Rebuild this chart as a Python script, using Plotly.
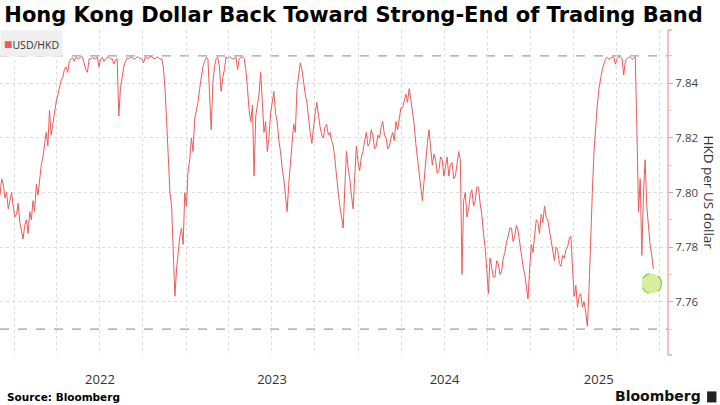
import pandas as pd
import plotly.graph_objects as go

# Twice-weekly USD/HKD readings (every 3.5 days), first reading on 2021-12-02
start_date = "2021-12-02"
usd_hkd = [
    7.799, 7.805, 7.803, 7.798, 7.800, 7.794, 7.797, 7.800, 7.795, 7.791,
    7.792, 7.796, 7.789, 7.786, 7.783, 7.788, 7.790, 7.785, 7.793, 7.790,
    7.797, 7.793, 7.803, 7.799, 7.806, 7.810, 7.813, 7.818, 7.822, 7.817,
    7.830, 7.821, 7.826, 7.829, 7.833, 7.836, 7.838, 7.841, 7.842, 7.845,
    7.846, 7.844, 7.848, 7.849, 7.8493, 7.848, 7.8496, 7.849, 7.8492, 7.8497,
    7.8495, 7.847, 7.845, 7.844, 7.849, 7.8488, 7.8495, 7.849, 7.849, 7.8496,
    7.846, 7.8489, 7.8495, 7.848, 7.849, 7.8496, 7.8495, 7.8488, 7.849, 7.847,
    7.8485, 7.849, 7.828, 7.838, 7.842, 7.846, 7.848, 7.8492, 7.849, 7.8495,
    7.8495, 7.8488, 7.849, 7.8497, 7.8495, 7.849, 7.849, 7.8475, 7.8495, 7.8492,
    7.849, 7.8498, 7.8497, 7.849, 7.849, 7.8496, 7.8495, 7.8488, 7.849, 7.846,
    7.838, 7.826, 7.812, 7.800, 7.795, 7.780, 7.762, 7.772, 7.778, 7.784,
    7.787, 7.781, 7.800, 7.795, 7.808, 7.812, 7.820, 7.815, 7.827, 7.830,
    7.833, 7.838, 7.842, 7.846, 7.848, 7.8495, 7.849, 7.836, 7.823, 7.840,
    7.846, 7.849, 7.8495, 7.846, 7.837, 7.842, 7.845, 7.8497, 7.849, 7.8496,
    7.8495, 7.8488, 7.849, 7.8496, 7.845, 7.849, 7.8495, 7.8497, 7.849, 7.845,
    7.838, 7.830, 7.826, 7.832, 7.806, 7.828, 7.832, 7.836, 7.844, 7.830,
    7.822, 7.826, 7.815, 7.820, 7.829, 7.833, 7.837, 7.829, 7.826, 7.819,
    7.815, 7.809, 7.805, 7.799, 7.793, 7.803, 7.812, 7.818, 7.825, 7.822,
    7.838, 7.843, 7.8475, 7.845, 7.840, 7.836, 7.833, 7.826, 7.822, 7.818,
    7.824, 7.829, 7.833, 7.828, 7.824, 7.821, 7.820, 7.824, 7.825, 7.821,
    7.822, 7.819, 7.817, 7.812, 7.805, 7.800, 7.795, 7.790, 7.787, 7.802,
    7.815, 7.809, 7.805, 7.799, 7.794, 7.806, 7.817, 7.811, 7.808, 7.813,
    7.815, 7.819, 7.822, 7.817, 7.818, 7.823, 7.821, 7.816, 7.817, 7.821,
    7.820, 7.824, 7.826, 7.821, 7.820, 7.816, 7.817, 7.820, 7.822, 7.819,
    7.826, 7.823, 7.827, 7.831, 7.831, 7.834, 7.836, 7.833, 7.838, 7.834,
    7.830, 7.825, 7.818, 7.812, 7.807, 7.802, 7.797, 7.805, 7.812, 7.818,
    7.823, 7.815, 7.810, 7.814, 7.812, 7.807, 7.808, 7.813, 7.812, 7.806,
    7.809, 7.813, 7.806, 7.810, 7.811, 7.805, 7.806, 7.811, 7.815, 7.812,
    7.770, 7.797, 7.800, 7.791, 7.794, 7.799, 7.801, 7.795, 7.797, 7.802,
    7.802, 7.796, 7.792, 7.785, 7.780, 7.772, 7.763, 7.776, 7.773, 7.769,
    7.769, 7.775, 7.774, 7.770, 7.771, 7.776, 7.778, 7.782, 7.784, 7.787,
    7.787, 7.782, 7.784, 7.788, 7.786, 7.781, 7.777, 7.773, 7.770, 7.766,
    7.761, 7.772, 7.781, 7.778, 7.785, 7.790, 7.789, 7.785, 7.792, 7.789,
    7.795, 7.791, 7.790, 7.786, 7.783, 7.778, 7.775, 7.780, 7.779, 7.774,
    7.773, 7.777, 7.776, 7.779, 7.780, 7.783, 7.784, 7.772, 7.762, 7.766,
    7.758, 7.762, 7.763, 7.758, 7.760, 7.756, 7.751, 7.765, 7.785, 7.800,
    7.815, 7.825, 7.832, 7.838, 7.842, 7.845, 7.847, 7.849, 7.8495, 7.8488,
    7.849, 7.8496, 7.8495, 7.847, 7.849, 7.8497, 7.8495, 7.849, 7.843, 7.848,
    7.849, 7.8496, 7.8495, 7.8488, 7.849, 7.8497, 7.823, 7.793, 7.805, 7.777,
    7.800, 7.812, 7.795, 7.787, 7.781, 7.777, 7.772,
]
dates = pd.date_range(start_date, periods=len(usd_hkd), freq="84h")

band_edges = [7.75, 7.85]
y_ticks = [7.76, 7.78, 7.80, 7.82, 7.84]
y_minor_ticks = [7.75, 7.77, 7.79, 7.81, 7.83, 7.85]
quarter_lines = [
    "2022-01-01", "2022-04-01", "2022-07-01", "2022-10-01",
    "2023-01-01", "2023-04-01", "2023-07-01", "2023-10-01",
    "2024-01-01", "2024-04-01", "2024-07-01", "2024-10-01",
    "2025-01-01", "2025-04-01", "2025-07-01", "2025-10-01",
]
year_label_dates = ["2022-07-02", "2023-07-02", "2024-07-02", "2025-05-25"]
year_labels = ["2022", "2023", "2024", "2025"]
highlight = ("2025-09-14", 7.7667)

LINE_RED = "#ec5b5b"
AXIS_RED = "#e79a9a"
TITLE_FONT = "DejaVu Sans"
BODY_FONT = "Open Sans"

fig = go.Figure()
fig.add_trace(go.Scatter(
    x=dates, y=usd_hkd, mode="lines",
    line=dict(color=LINE_RED, width=1),
    showlegend=False, hoverinfo="skip",
))

# Trading band edges
for edge in band_edges:
    fig.add_hline(y=edge, line=dict(color="#a0a0a0", width=1.3, dash="dash"), layer="below")

# Latest reading marker
fig.add_shape(
    type="circle", xref="x", yref="y", xsizemode="pixel", ysizemode="pixel",
    xanchor=highlight[0], yanchor=highlight[1], x0=-10, x1=10, y0=-10, y1=10,
    fillcolor="rgba(205,234,145,0.85)", line=dict(color="#94c844", width=1.2, dash="dash"),
)

# Right axis line with end caps
fig.add_shape(type="line", xref="paper", yref="paper", x0=1, x1=1, y0=0, y1=1,
              line=dict(color=AXIS_RED, width=1.2))
for yy in (0, 1):
    fig.add_shape(type="line", xref="paper", yref="paper", x0=1, x1=1.006, y0=yy, y1=yy,
                  line=dict(color=AXIS_RED, width=1.2))

# small logo block next to the wordmark
fig.add_shape(type="rect", xref="paper", yref="paper", x0=1.0585, x1=1.0725,
              y0=-0.146, y1=-0.112, fillcolor="#222222", line=dict(width=0))

fig.update_layout(
    width=720, height=405,
    margin=dict(l=0, r=52, t=30, b=50),
    paper_bgcolor="white", plot_bgcolor="white",
    font=dict(family=BODY_FONT, color="#333333"),
    title=dict(
        text="<b>Hong Kong Dollar Back Toward Strong-End of Trading Band</b>",
        x=0.006, xanchor="left", y=0.963, yanchor="middle",
        font=dict(family=TITLE_FONT, size=21, color="#000000"),
    ),
    xaxis=dict(
        type="date", range=["2021-12-02", "2025-10-19"],
        tickvals=year_label_dates, ticktext=year_labels,
        showgrid=False, zeroline=False, showline=False, ticks="",
        ticklabelstandoff=15, tickfont=dict(size=13, color="#333333"),
        minor=dict(tickvals=quarter_lines, showgrid=True, gridcolor="#dcdcdc",
                   griddash="dot", gridwidth=1, ticks=""),
    ),
    yaxis=dict(
        side="right", range=[7.7405, 7.8595],
        tickvals=y_ticks, tickformat=".2f",
        showgrid=True, gridcolor="#dcdcdc", griddash="dot", gridwidth=1,
        zeroline=False, showline=False,
        ticks="outside", ticklen=4, tickwidth=1, tickcolor=AXIS_RED,
        ticklabelstandoff=0, tickfont=dict(size=11.5, color="#444444"),
        minor=dict(tickvals=y_minor_ticks, ticks="outside", ticklen=3,
                   tickcolor="#f1c6c6", showgrid=False),
    ),
    annotations=[
        dict(text="HKD per US dollar", textangle=90, xref="paper", yref="paper",
             x=1.0, y=0.5, xanchor="center", yanchor="middle", xshift=41,
             showarrow=False, font=dict(size=13.5, color="#333333")),
        dict(text=f"<span style='color:{LINE_RED};font-size:14px'>■</span>USD/HKD",
             xref="paper", yref="paper", x=0.0, y=1.0, xanchor="left", yanchor="top",
             showarrow=False, bgcolor="#efefef", borderpad=3,
             font=dict(size=10.5, color="#333333")),
        dict(text="<b>Source: Bloomberg</b>", xref="paper", yref="paper",
             x=0.0, y=0, xanchor="left", yanchor="middle", xshift=5, yshift=-42,
             showarrow=False, font=dict(family=TITLE_FONT, size=10.5, color="#000000")),
        dict(text="<b>Bloomberg</b>", xref="paper", yref="paper",
             x=1.0, y=0, xanchor="right", yanchor="middle", xshift=35, yshift=-41,
             showarrow=False, font=dict(family=TITLE_FONT, size=14, color="#111111")),
    ],
)

fig.write_html(
    "out.html",
    config={"displayModeBar": False},
    post_script="document.body.style.margin='0';",
)
